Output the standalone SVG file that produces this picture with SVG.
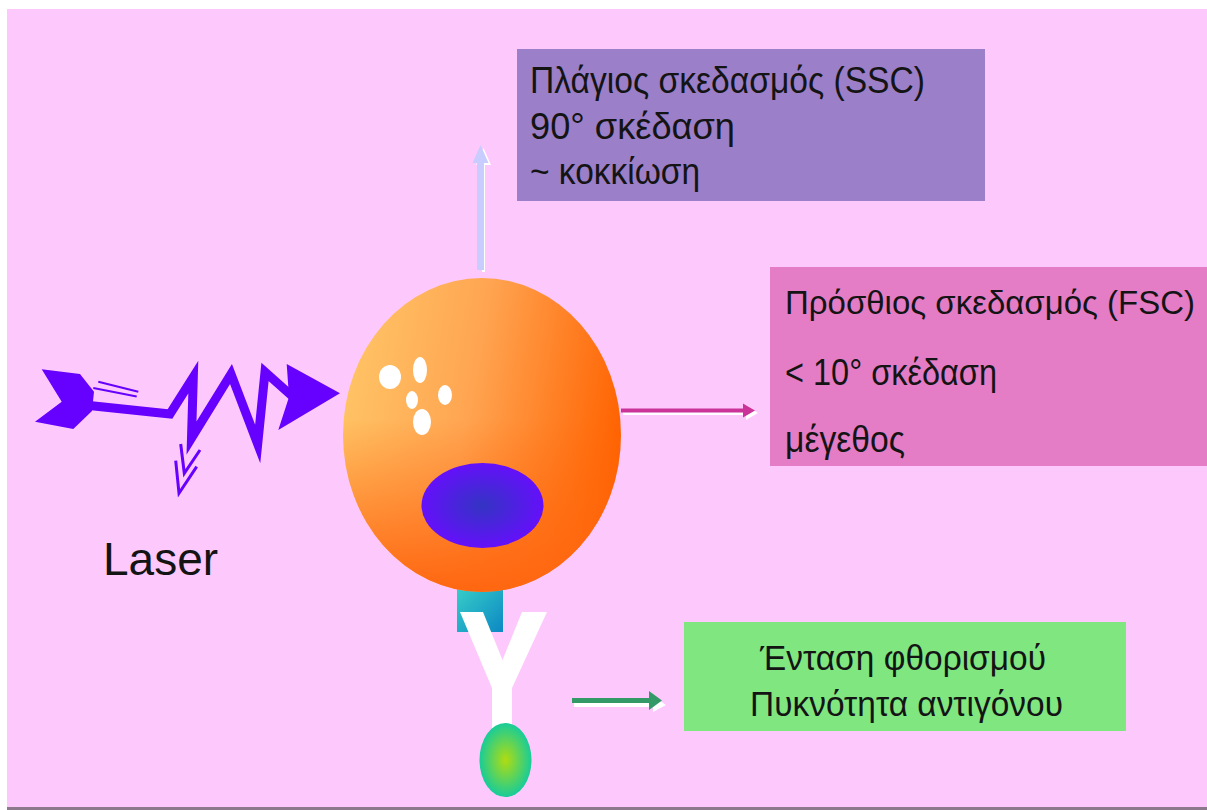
<svg xmlns="http://www.w3.org/2000/svg" width="1207" height="810" viewBox="0 0 1207 810">
  <style>
    .lbl { font-family: "Liberation Sans", Arial, "Noto Sans", sans-serif; fill: #141414; }
    .big { font-size: 37px; }
    .mid { font-size: 35px; }
    .bolt { fill: #6600FF; }
    .boltline { fill: none; stroke: #6600FF; stroke-linejoin: miter; stroke-miterlimit: 20; }
  </style>
  <defs>
    <linearGradient id="cellH" x1="0" y1="0.3" x2="1" y2="0.5">
      <stop offset="0" stop-color="#FFC465"/>
      <stop offset="0.45" stop-color="#FFA552"/>
      <stop offset="1" stop-color="#FF6200"/>
    </linearGradient>
    <linearGradient id="cellV" x1="0" y1="0" x2="0" y2="1">
      <stop offset="0.45" stop-color="#FF6A10" stop-opacity="0"/>
      <stop offset="1" stop-color="#FF6610" stop-opacity="1"/>
    </linearGradient>
    <radialGradient id="nucleus" cx="0.5" cy="0.5" r="0.5">
      <stop offset="0" stop-color="#3434C4"/>
      <stop offset="1" stop-color="#6410FA"/>
    </radialGradient>
    <linearGradient id="receptor" x1="0" y1="0" x2="1" y2="1">
      <stop offset="0" stop-color="#38D0C8"/>
      <stop offset="1" stop-color="#0C88C4"/>
    </linearGradient>
    <radialGradient id="fluor" cx="0.5" cy="0.5" r="0.5">
      <stop offset="0" stop-color="#B0DC10"/>
      <stop offset="1" stop-color="#18CC98"/>
    </radialGradient>
  </defs>

  <!-- slide background -->
  <rect x="0" y="0" width="1207" height="810" fill="#FFFFFF"/>
  <rect x="7" y="9" width="1200" height="799" fill="#FDC9FD"/>
  <rect x="7" y="807" width="1200" height="3" fill="#8C7A8C"/>

  <!-- connectors -->
  <g id="connectors">
    <!-- side scatter (up) -->
    <g id="ssc-arrow">
      <path d="M482,272 L482,165 L476,165 L483.5,148 L491,165 L485,165 L485,272 Z" fill="#FFFFFF"/>
      <path d="M477,270 L477,163 L472.5,163 L480.5,145 L488.5,163 L484,163 L484,270 Z" fill="#C8CCFF"/>
    </g>
    <!-- forward scatter (right) -->
    <g id="fsc-arrow">
      <path d="M623,411 L746,411 L746,405 L758,413 L746,420 L746,415 L623,415 Z" fill="#FFFFFF"/>
      <path d="M621,408.5 L743,408.5 L743,403.5 L755,410.5 L743,417.5 L743,412.5 L621,412.5 Z" fill="#CC3399"/>
    </g>
    <!-- fluorescence (right) -->
    <g id="fl-arrow">
      <path d="M574,703 L653,703 L653,696 L666,705 L653,712 L653,707 L574,707 Z" fill="#FFFFFF"/>
      <path d="M572,698 L649,698 L649,691 L662,700.5 L649,710 L649,703 L572,703 Z" fill="#339966"/>
    </g>
  </g>

  <!-- laser beam -->
  <g id="laser">
    <polygon class="bolt" points="41.7,369.3 80,374 94,391.7 92,411 73.3,429 35,421.7 61.7,401.7"/>
    <polyline class="boltline" stroke-width="9" points="75,404 170,414 193.3,377 191.5,438 231,374 257.7,444 265,372 292,396"/>
    <polygon class="bolt" points="286.7,364 340,393.3 278.3,430 289,397"/>
    <path class="boltline" stroke-width="2" d="M98.3,381.7 L138.3,391.7 M93.3,388 L136.7,396.5"/>
    <path class="boltline" stroke-width="3" d="M175.7,460.7 L179,493.3 L196.7,466.7 M180.7,444 L184.3,473.3 L200,450"/>
    <text class="lbl" x="103" y="575" font-size="46">Laser</text>
  </g>

  <!-- cell with receptor, antibody and fluorochrome -->
  <g id="cell">
    <rect x="457" y="585" width="46" height="47" fill="url(#receptor)"/>
    <ellipse cx="482" cy="435" rx="139" ry="157" fill="url(#cellH)"/>
    <ellipse cx="482" cy="435" rx="139" ry="157" fill="url(#cellV)"/>
    <g fill="#FFFFFF">
      <ellipse cx="390" cy="377" rx="11" ry="12"/>
      <ellipse cx="420" cy="370" rx="7" ry="13"/>
      <ellipse cx="445" cy="395" rx="7" ry="10"/>
      <ellipse cx="412" cy="400" rx="6" ry="9"/>
      <ellipse cx="422" cy="422" rx="9" ry="13"/>
    </g>
    <ellipse cx="482.5" cy="505.5" rx="61" ry="42.5" fill="url(#nucleus)"/>
  </g>
  <g id="antibody">
    <polygon fill="#FFFFFF" points="460,612 483,612 502.5,660 522,612 547,612 512,688 512,730 492,730 492,688"/>
    <ellipse cx="505.5" cy="760" rx="26" ry="37" fill="url(#fluor)"/>
  </g>

  <!-- side scatter box -->
  <g id="ssc-box">
    <rect x="517" y="49" width="468" height="152" fill="#9B7FC9"/>
    <text class="lbl big" x="530" y="93" textLength="395" lengthAdjust="spacingAndGlyphs">Πλάγιος σκεδασμός (SSC)</text>
    <text class="lbl big" x="530" y="139" textLength="205" lengthAdjust="spacingAndGlyphs">90° σκέδαση</text>
    <text class="lbl big" x="530" y="184" textLength="170" lengthAdjust="spacingAndGlyphs">~ κοκκίωση</text>
  </g>

  <!-- forward scatter box -->
  <g id="fsc-box">
    <rect x="770" y="267" width="437" height="199" fill="#E47DC6"/>
    <text class="lbl" x="785" y="314" font-size="33" textLength="410" lengthAdjust="spacingAndGlyphs">Πρόσθιος σκεδασμός (FSC)</text>
    <text class="lbl big" x="785" y="385" textLength="212" lengthAdjust="spacingAndGlyphs">&lt; 10° σκέδαση</text>
    <text class="lbl big" x="785" y="452" textLength="120" lengthAdjust="spacingAndGlyphs">μέγεθος</text>
  </g>

  <!-- fluorescence box -->
  <g id="fl-box">
    <rect x="684" y="622" width="442" height="109" fill="#80E680"/>
    <text class="lbl mid" x="760" y="670" textLength="286" lengthAdjust="spacingAndGlyphs">Ένταση φθορισμού</text>
    <text class="lbl mid" x="750" y="716" textLength="313" lengthAdjust="spacingAndGlyphs">Πυκνότητα αντιγόνου</text>
  </g>
</svg>
